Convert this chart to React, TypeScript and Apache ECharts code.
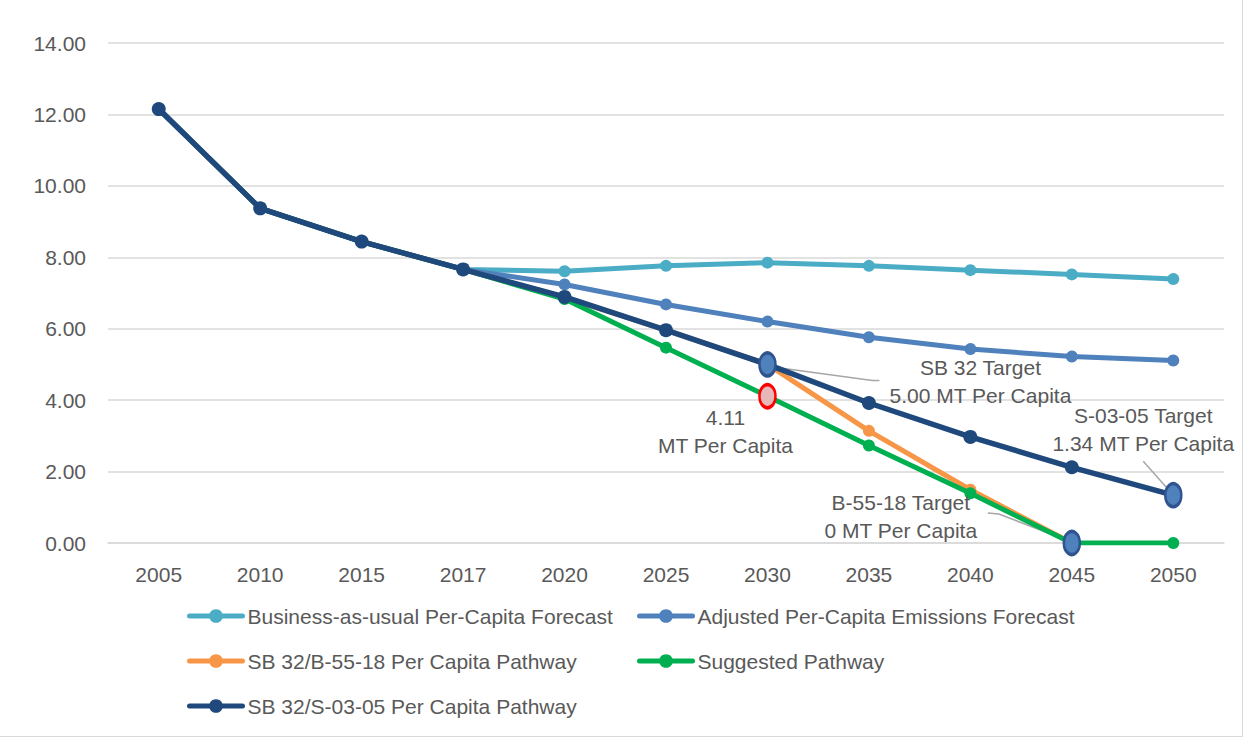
import React, { useEffect, useRef } from "react";
import * as echarts from "echarts";

const years = ["2005", "2010", "2015", "2017", "2020", "2025", "2030", "2035", "2040", "2045", "2050"];
const yTicks = [0, 2, 4, 6, 8, 10, 12, 14];

const bauValues = [12.15, 9.37, 8.44, 7.66, 7.61, 7.76, 7.85, 7.76, 7.64, 7.52, 7.39];
const adjustedValues = [12.15, 9.37, 8.44, 7.66, 7.24, 6.68, 6.2, 5.76, 5.43, 5.22, 5.11];
const sb32B5518Values = [12.15, 9.37, 8.44, 7.66, 6.88, 5.96, 5.0, 3.14, 1.49, 0, null];
const suggestedValues = [12.15, 9.37, 8.44, 7.66, 6.83, 5.47, 4.11, 2.73, 1.39, 0, 0];
const sb32S0305Values = [12.15, 9.37, 8.44, 7.66, 6.89, 5.96, 5.0, 3.92, 2.97, 2.12, 1.34];

const seriesNames = [
  "Business-as-usual Per-Capita Forecast",
  "Adjusted Per-Capita Emissions Forecast",
  "SB 32/B-55-18 Per Capita Pathway",
  "Suggested Pathway",
  "SB 32/S-03-05 Per Capita Pathway",
];
const colors = ["#4bacc6", "#4f81bd", "#f79646", "#00b050", "#1f497d"];

const FONT = "'Liberation Sans', Arial, sans-serif";
const TEXT = "#595959";
const FS = 21;

const targetStyle = { color: "#4f81bd", borderColor: "#2f5490", borderWidth: 3 };
const redStyle = { color: "#e6b9b8", borderColor: "#ff0000", borderWidth: 3 };

export default function App() {
  const ref = useRef<HTMLDivElement>(null);
  useEffect(() => {
    if (!ref.current) return;
    const chart = echarts.init(ref.current, undefined, { renderer: "svg" });

    const mk = (i: number, data: any[], width: number, size: number) => ({
      name: seriesNames[i],
      type: "line",
      data,
      symbol: "circle",
      symbolSize: size,
      showSymbol: true,
      lineStyle: { color: colors[i], width, cap: "round", join: "round" },
      itemStyle: { color: colors[i] },
      z: 2 + i,
    });

    const special = (v: number, style: any) => ({ value: v, symbolSize: [16, 23], itemStyle: style });

    const greenData: any[] = suggestedValues.map((v, i) => {
      if (i === 6) return special(v, redStyle);
      if (i === 9) return special(v, targetStyle);
      return v;
    });
    const darkData: any[] = sb32S0305Values.map((v, i) => {
      if (i === 6 || i === 10) return special(v, targetStyle);
      return v;
    });

    const legendCommon = {
      orient: "vertical",
      padding: 0,
      itemWidth: 53,
      itemHeight: 17,
      itemGap: 23,
      lineStyle: { width: 5 },
      textStyle: { color: TEXT, fontSize: FS, fontFamily: FONT, lineHeight: 22, padding: [0, 0, 0, 0] },
    };

    chart.setOption({
      animation: false,
      grid: { left: 108, right: 18, top: 43, bottom: 193 },
      legend: [
        { ...legendCommon, left: 187, top: 605, data: [seriesNames[0], seriesNames[2], seriesNames[4]] },
        { ...legendCommon, left: 637, top: 605, data: [seriesNames[1], seriesNames[3]] },
      ],
      xAxis: {
        type: "category",
        data: years,
        boundaryGap: true,
        axisLine: { lineStyle: { color: "#d9d9d9", width: 1.5 } },
        axisTick: { show: false },
        axisLabel: { color: TEXT, fontSize: FS, fontFamily: FONT, margin: 21 },
      },
      yAxis: {
        type: "value",
        min: yTicks[0],
        max: yTicks[yTicks.length - 1],
        interval: 2,
        axisLine: { show: false },
        axisTick: { show: false },
        splitLine: { lineStyle: { color: "#d9d9d9", width: 1.5 } },
        axisLabel: {
          color: TEXT,
          fontSize: FS,
          fontFamily: FONT,
          margin: 22,
          formatter: (v: number) => v.toFixed(2),
        },
      },
      series: [
        mk(0, bauValues, 5, 12),
        mk(1, adjustedValues, 5, 12),
        mk(2, sb32B5518Values, 5, 12),
        mk(3, greenData, 5, 12),
        mk(4, darkData, 5.5, 14),
      ],
    });

    const px = (i: number, v: number) => chart.convertToPixel({ xAxisIndex: 0, yAxisIndex: 0 }, [i, v]) as number[];
    const p2030 = px(6, sb32S0305Values[6]);
    const pRed = px(6, suggestedValues[6]);
    const p2045 = px(9, suggestedValues[9]);
    const p2050 = px(10, sb32S0305Values[10]);

    const txt = (x: number, y: number, text: string) => ({
      type: "text",
      x,
      y,
      z: 100,
      style: {
        text,
        fill: TEXT,
        fontSize: FS,
        fontFamily: FONT,
        align: "center",
        verticalAlign: "middle",
        lineHeight: 28,
      },
    });
    const leader = (pts: number[][]) => ({
      type: "polyline",
      z: 1,
      shape: { points: pts },
      style: { stroke: "#a6a6a6", lineWidth: 1.5, fill: "none" },
    });

    chart.setOption({
      graphic: [
        txt(p2030[0] + 213, p2030[1] + 17, "SB 32 Target\n5.00 MT Per Capita"),
        leader([
          [p2030[0] + 9, p2030[1] + 3],
          [p2030[0] + 105, p2030[1] + 16],
          [p2030[0] + 112, p2030[1] + 16],
        ]),
        txt(pRed[0] - 42, pRed[1] + 35, "4.11\nMT Per Capita"),
        txt(p2045[0] - 171, p2045[1] - 27, "B-55-18 Target\n0 MT Per Capita"),
        leader([
          [p2045[0] - 84, p2045[1] - 30],
          [p2045[0] - 73, p2045[1] - 29],
          [p2045[0] - 3, p2045[1] - 2],
        ]),
        txt(p2050[0] - 30, p2050[1] - 66, "S-03-05 Target\n1.34 MT Per Capita"),
        leader([
          [p2050[0] - 30, p2050[1] - 34],
          [p2050[0] - 7, p2050[1] - 8],
        ]),
      ],
    });

    return () => chart.dispose();
  }, []);

  return (
    <div style={{ position: "absolute", left: 0, top: 0, width: 1245, height: 739, background: "#fff" }}>
      <div
        ref={ref}
        style={{
          position: "absolute",
          left: 0,
          top: 0,
          width: 1242,
          height: 736,
          border: "1px solid #d9d9d9",
          borderLeft: "none",
          borderTop: "none",
        }}
      />
    </div>
  );
}
